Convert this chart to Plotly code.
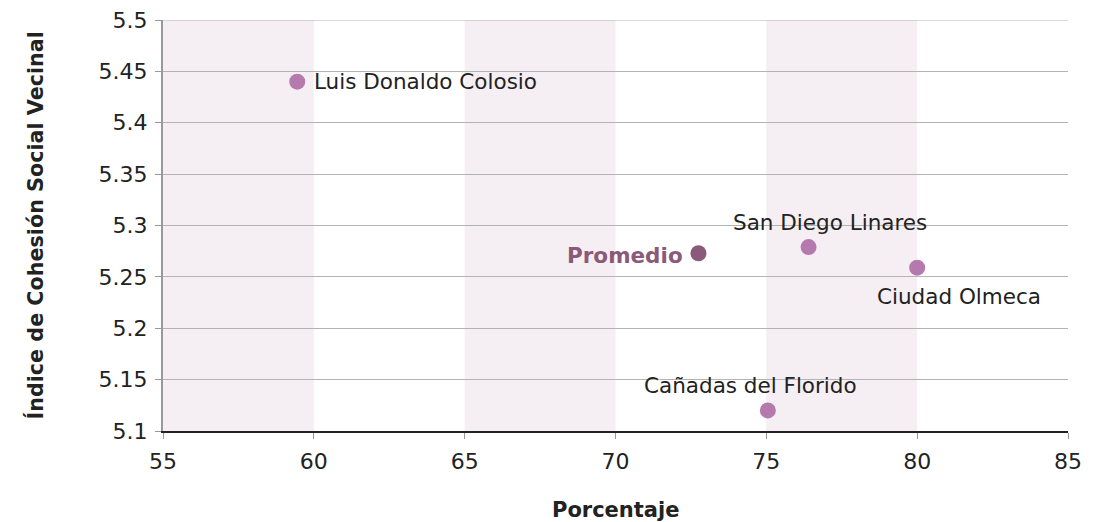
import plotly.graph_objects as go

names = ["Luis Donaldo Colosio", "San Diego Linares", "Ciudad Olmeca", "Cañadas del Florido"]
x_vals = [59.45, 76.4, 80.0, 75.05]
y_vals = [5.44, 5.279, 5.259, 5.12]
prom_name = "Promedio"
prom_x = [72.75]
prom_y = [5.273]
band_ranges = [(55, 60), (65, 70), (75, 80)]
x_ticks = [55, 60, 65, 70, 75, 80, 85]
y_ticks = [5.1, 5.15, 5.2, 5.25, 5.3, 5.35, 5.4, 5.45, 5.5]
x_title = "Porcentaje"
y_title = "Índice de Cohesión Social Vecinal"

FONT = "DejaVu Sans, Verdana, sans-serif"
PT = "#b57aad"
PROM = "#8b5a78"
FS = 21.5
TFS = 22
TXT = "#222222"
GRID = "#b3b3b3"

fig = go.Figure()
fig.add_trace(go.Scatter(x=x_vals, y=y_vals, mode="markers",
                         marker=dict(size=16, color=PT), showlegend=False, cliponaxis=False))
fig.add_trace(go.Scatter(x=prom_x, y=prom_y, mode="markers",
                         marker=dict(size=16, color=PROM), showlegend=False, cliponaxis=False))

shapes = []
for a, b in band_ranges:
    shapes.append(dict(type="rect", xref="x", yref="paper", x0=a, x1=b, y0=0, y1=1,
                       fillcolor="#f5eef3", line=dict(width=0), layer="below"))
# top gridline at the upper range edge
shapes.append(dict(type="line", xref="paper", yref="y", x0=0, x1=1, y0=y_ticks[-1], y1=y_ticks[-1],
                   line=dict(color=GRID, width=1), layer="below"))

# label placements (style only)
offsets = [
    dict(xanchor="left", yanchor="middle", xshift=15, yshift=0),
    dict(xanchor="center", yanchor="bottom", xshift=21, yshift=10),
    dict(xanchor="center", yanchor="top", xshift=42, yshift=-14),
    dict(xanchor="center", yanchor="bottom", xshift=-17, yshift=10),
]
annotations = []
for n, xv, yv, off in zip(names, x_vals, y_vals, offsets):
    annotations.append(dict(x=xv, y=yv, text=n, showarrow=False,
                            font=dict(family=FONT, size=FS, color=TXT), **off))
annotations.append(dict(x=prom_x[0], y=prom_y[0], text="<b>" + prom_name + "</b>", showarrow=False,
                        xanchor="right", yanchor="middle", xshift=-13, yshift=-2,
                        font=dict(family=FONT, size=FS, color=PROM)))
# axis titles
annotations.append(dict(xref="paper", yref="paper", x=0.5, y=0, text="<b>" + x_title + "</b>",
                        showarrow=False, xanchor="center", yanchor="middle", yshift=-79,
                        font=dict(family=FONT, size=21, color=TXT)))
annotations.append(dict(xref="paper", yref="paper", x=0, y=0.5, text="<b>" + y_title + "</b>",
                        showarrow=False, xanchor="center", yanchor="middle", xshift=-128,
                        textangle=-90, font=dict(family=FONT, size=20.7, color=TXT)))

fig.update_layout(
    width=1096, height=514,
    margin=dict(l=155, r=36, t=12, b=91),
    paper_bgcolor="white", plot_bgcolor="white",
    font=dict(family=FONT, size=FS, color=TXT),
    shapes=shapes, annotations=annotations,
    xaxis=dict(range=[55, 85], tickvals=x_ticks, showgrid=False, zeroline=False, automargin=False,
               showline=True, linecolor="#222222", linewidth=2,
               ticks="outside", ticklen=6, tickcolor="#999999", tickwidth=1,
               ticklabelstandoff=4, ticklabeloverflow="allow",
               tickfont=dict(family=FONT, size=TFS, color=TXT)),
    yaxis=dict(range=[5.1, 5.5], tickvals=y_ticks, ticktext=[f"{v:g}" for v in y_ticks],
               showgrid=True, gridcolor=GRID, gridwidth=1, zeroline=False, automargin=False,
               showline=True, linecolor="#999999", linewidth=2,
               ticks="outside", ticklen=6, tickcolor="#999999", tickwidth=1,
               ticklabelstandoff=3, ticklabeloverflow="allow",
               tickfont=dict(family=FONT, size=TFS, color=TXT)),
)

fig.write_html("out.html")
